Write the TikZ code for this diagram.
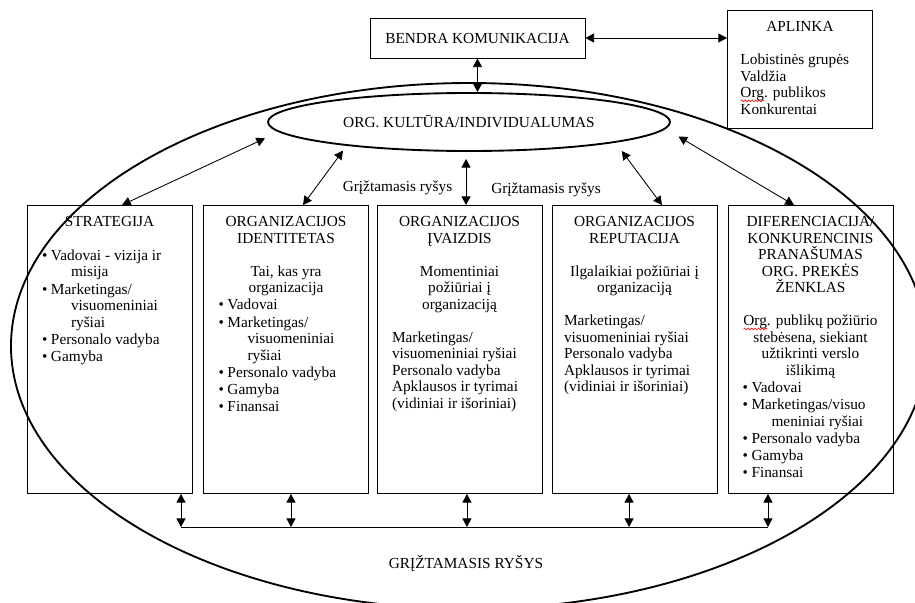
\documentclass[tikz,border=0pt]{standalone}
\usepackage{fontspec}
\setmainfont{Liberation Serif}
\usetikzlibrary{shapes.geometric,arrows.meta,decorations.pathmorphing}

% red wavy underline, as a spell checker marks a word
\newdimen\spellw
\newcommand\spellmark[1]{\leavevmode\setbox0\hbox{#1}\spellw=\wd0\relax
  \rlap{\tikz[baseline=0pt]\draw[red, line width=0.45pt, line cap=round, decorate,
    decoration={snake, amplitude=0.7pt, segment length=2.6pt}] (0pt,-2.4pt) -- (\spellw,-2.4pt);}#1}

% bullet item with hanging continuation lines
\newcommand\itm[1]{\par\vspace{0.5pt}\hangindent=21.75pt\hangafter=1\noindent\makebox[6.75pt][l]{\textbullet}#1\par}
% one empty line of text
\newcommand\blankline{\vspace{12.4pt}}
% top-aligned text body of a column box
\newcommand\boxbody[1]{\parbox[c][216pt][t]{114.75pt}{\setlength\parskip{0pt}\vspace*{8.2pt}#1}}

\begin{document}
\begin{tikzpicture}[x=0.75pt,y=-0.75pt,
  font=\fontsize{11.5}{12.4}\selectfont,
  boxsty/.style={draw, line width=0.7pt, inner xsep=4.5pt, inner ysep=0pt, anchor=north},
  dbl/.style={{Triangle[length=6.5pt,width=6.8pt]}-{Triangle[length=6.5pt,width=6.8pt]}, line width=0.65pt},
  oval/.style={ellipse, draw, line width=1.4pt, inner sep=0pt}]
\useasboundingbox (0,0) rectangle (915,603);
\clip (0,0) rectangle (915,603);

% large organisation ellipse and the culture ellipse
\node[oval, minimum width=687pt, minimum height=394.5pt] (org) at (469,346) {};
\node[oval, minimum width=301.5pt, minimum height=43.5pt] (kult) at (469,122) {ORG. KULTŪRA/INDIVIDUALUMAS};

% top boxes
\node[draw, line width=0.7pt, minimum width=161.25pt, minimum height=30pt, inner sep=0pt] (bk) at (477.5,38) {BENDRA KOMUNIKACIJA};
\node[draw, line width=0.7pt, inner xsep=4.5pt, inner ysep=0pt, anchor=north west] (apl) at (727,10)
  {\parbox[c][88.5pt][t]{99.75pt}{\setlength\parskip{0pt}\vspace*{8.2pt}\centering APLINKA\par\blankline
   \raggedright\leftskip=5.25pt Lobistinės grupės\\Valdžia\\\spellmark{Org}. publikos\\Konkurentai\par}};

% five columns
\node[boxsty] (s1) at (109.5,205) {\boxbody{\centering STRATEGIJA\par\blankline
  \raggedright\leftskip=6.75pt
  \itm{Vadovai - vizija ir\newline misija}
  \itm{Marketingas/\newline visuomeniniai\newline ryšiai}
  \itm{Personalo vadyba}
  \itm{Gamyba}}};

\node[boxsty] (s2) at (286,205) {\boxbody{\centering ORGANIZACIJOS\\IDENTITETAS\par\blankline
  Tai, kas yra\\organizacija\par
  \raggedright\leftskip=6.75pt
  \itm{Vadovai}
  \itm{Marketingas/\newline visuomeniniai\newline ryšiai}
  \itm{Personalo vadyba}
  \itm{Gamyba}
  \itm{Finansai}}};

\node[boxsty] (s3) at (459.5,205) {\boxbody{\centering ORGANIZACIJOS\\ĮVAIZDIS\par\blankline
  Momentiniai\\požiūriai į\\organizaciją\par\blankline
  \raggedright\leftskip=6.75pt
  Marketingas/\\visuomeniniai ryšiai\\Personalo vadyba\\Apklausos ir tyrimai\\(vidiniai ir išoriniai)\par}};

\node[boxsty] (s4) at (634.5,205) {\boxbody{\centering ORGANIZACIJOS\\REPUTACIJA\par\blankline
  Ilgalaikiai požiūriai į\\organizaciją\par\blankline
  \raggedright\leftskip=4.5pt
  Marketingas/\\visuomeniniai ryšiai\\Personalo vadyba\\Apklausos ir tyrimai\\(vidiniai ir išoriniai)\par}};

\node[boxsty] (s5) at (810.5,205) {\boxbody{\centering DIFERENCIACIJA/\\KONKURENCINIS\\PRANAŠUMAS\\ORG. PREKĖS\\ŽENKLAS\par\blankline
  \spellmark{Org}. publikų požiūrio\\stebėsena, siekiant\\užtikrinti verslo\\išlikimą\par
  \raggedright\leftskip=6.4pt
  \itm{Vadovai}
  \itm{Marketingas/visuo\newline meniniai ryšiai}
  \itm{Personalo vadyba}
  \itm{Gamyba}
  \itm{Finansai}}};

% labels
\node (g1) at (397.5,188) {Grįžtamasis ryšys};
\node (g2) at (546,190) {Grįžtamasis ryšys};
\node (g3) at (466,563) {GRĮŽTAMASIS RYŠYS};

% links between the top boxes and the culture ellipse
\draw[dbl] (bk.east) -- (bk.east -| apl.west);
\draw[dbl] (bk.south) -- (bk.south |- kult.north);

% links from the columns up to the culture ellipse
\draw[dbl, shorten >=11.25pt] ([xshift=9.4pt]s1.north) -- (kult.183);
\draw[dbl, shorten >=4.5pt] ([xshift=12.75pt]s2.north) -- (kult.191);
\draw[dbl, shorten >=5.25pt] ([xshift=4.9pt]s3.north) -- ([xshift=4.9pt]s3.north |- kult.south);
\draw[dbl, shorten >=7.9pt] ([xshift=20.6pt]s4.north) -- (kult.352);
\draw[dbl, shorten >=11.25pt] ([xshift=-12.4pt]s5.north) -- (kult.358);

% feedback bus under the columns
\coordinate (fbL) at (181,527);
\coordinate (fbR) at (768,527);
\draw[line width=0.6pt] (fbL) -- (fbR);
\draw[dbl] (fbL |- s1.south) -- (fbL);
\draw[dbl] ([xshift=3.75pt]s2.south) -- ([xshift=3.75pt]s2.south |- fbL);
\draw[dbl] ([xshift=5.6pt]s3.south) -- ([xshift=5.6pt]s3.south |- fbL);
\draw[dbl] ([xshift=-4.1pt]s4.south) -- ([xshift=-4.1pt]s4.south |- fbL);
\draw[dbl] (fbR |- s5.south) -- (fbR);
\end{tikzpicture}
\end{document}
